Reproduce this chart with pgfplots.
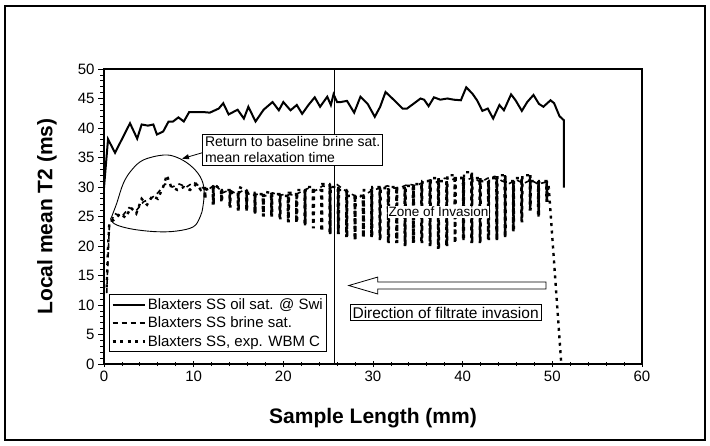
\documentclass[border=0pt]{standalone}
\usepackage{pgfplots}
\pgfplotsset{compat=1.18}
\usepackage{fontspec}
\setmainfont{Liberation Sans}
\usetikzlibrary{arrows.meta}
\begin{document}
\begin{tikzpicture}
\useasboundingbox (0pt,0pt) rectangle (710pt,445pt);
\draw[line width=1.5pt] (5pt,5pt) rectangle (705pt,439pt);
\begin{axis}[
  at={(104pt,81pt)}, anchor=south west,
  scale only axis, width=538pt, height=295pt,
  xmin=0, xmax=60, ymin=0, ymax=50,
  xtick={0,10,...,60}, ytick={0,5,...,50},
  minor x tick num=4, minor y tick num=4,
  tick pos=left,
  ytick align=outside, xtick align=center,
  major tick length=6pt, minor tick length=4pt,
  every tick/.style={black, line width=0.8pt},
  axis line style={line width=1.2pt},
  /pgf/number format/assume math mode=true,
  tick label style={font=\fontsize{15}{18}\selectfont},
  xlabel={\bfseries Sample Length (mm)},
  ylabel={\bfseries Local mean T2 (ms)},
  label style={font=\fontsize{21}{25}\selectfont},
  xlabel style={at={(axis description cs:0.5,-0.183)}, anchor=center},
  ylabel style={at={(axis description cs:-0.106,0.5)}, anchor=center},
  legend style={at={(0.0093,0.041)}, anchor=south west, draw=black, line width=0.8pt,
    font=\fontsize{15}{18}\selectfont, row sep=2pt, inner sep=2pt, fill=white},
  legend cell align=left,
  legend image code/.code={\draw[#1] (0pt,0pt) -- (32pt,0pt);},
]
\addplot[black, line width=2pt] coordinates {
(0,29.9)(0.45,38.1)(1.23,35.8)(2.9,40.8)(3.7,38.2)(4.2,40.6)(4.9,40.4)(5.5,40.6)(5.9,38.9)(6.6,39.4)(7.2,41.1)(7.7,41.1)(8.3,41.8)(8.9,41.1)(9.5,42.7)(11.1,42.7)(11.8,42.6)(12.8,43.3)(13.3,44.2)(13.9,42.3)(14.9,43.1)(15.6,41.6)(16.1,43.6)(16.9,41.1)(17.8,43.1)(18.8,44.4)(19.5,43.0)(20.0,44.4)(20.8,43.0)(21.5,43.9)(22.1,42.4)(22.8,43.9)(23.5,45.2)(24.1,43.6)(24.9,45.3)(25.3,43.9)(25.6,45.7)(26.0,44.4)(26.4,44.4)(27.1,44.6)(27.9,42.6)(28.6,45.3)(29.4,44.1)(30.2,41.9)(30.8,43.6)(31.4,46.1)(32.3,44.8)(33.3,43.3)(33.8,43.3)(34.6,44.2)(35.3,45.0)(35.7,44.8)(36.2,43.7)(36.8,45.2)(37.5,44.8)(38.3,45.0)(39.0,44.8)(39.8,44.7)(40.4,46.9)(41.1,45.8)(41.6,44.7)(42.2,42.9)(42.8,43.3)(43.4,41.6)(44.1,43.9)(44.6,43.0)(45.4,45.7)(45.9,44.7)(46.6,42.9)(47.2,44.4)(47.9,45.6)(48.5,44.1)(49.0,43.6)(49.8,44.7)(50.2,44.2)(50.8,42.0)(51.3,41.3)(51.3,29.9)
};
\addlegendentry{Blaxters SS oil sat. @ Swi}
\addplot[black, line width=1.6pt, dash pattern=on 5pt off 4pt] coordinates {
(0.3,12)(0.45,18)(0.6,23.5)(1.2,25.5)(2.0,25)(2.8,26.5)(3.6,26)(4.4,27.5)(5.2,28)(6.0,29)(6.8,30.5)(7.6,30)(8.4,30.5)(9.2,30)(10.0,30.8)(10.8,30)(11.6,29.5)(12.4,30.5)(13.2,29)(14.0,29.5)(14.8,28.8)(15.6,29.5)(16.4,28.5)(17.2,28.8)(18.0,28.5)(18.8,29)(19.6,28.6)(20.4,28.8)(21.2,28.6)(22.0,29.2)(22.8,29.8)(23.6,29.4)(24.4,30.2)(25.2,29.8)(26.0,30.4)(26.8,29.5)(27.6,28.8)(28.4,28.2)(29.2,28.8)(30.0,29.5)(30.8,29.8)(31.6,30.2)(32.4,29.8)(33.2,30)(34.0,30.5)(34.8,30.2)(35.6,30.8)(36.4,31.2)(37.2,30.8)(38.0,31.5)(38.8,31.2)(39.6,31.8)(40.4,31.2)(41.2,31.6)(42.0,30.8)(42.8,31.5)(43.6,31.8)(44.4,31)(45.2,30.6)(46.0,31.2)(46.8,30.6)(47.6,31.2)(48.4,30.5)(49.2,30.8)(49.6,29.5)
};
\addlegendentry{Blaxters SS brine sat.}
\addplot[black, line width=2.4pt, dash pattern=on 3pt off 4.5pt] coordinates {
(0.3,13)(0.45,20)(0.6,24)(1.2,24.5)(1.8,25.5)(2.4,24.8)(3.0,26.5)(3.6,25.5)(4.2,28)(4.8,27)(5.4,28.5)(6.0,28)(6.6,30)(7.0,32)(7.5,30)(8.2,29.5)(8.9,30)(9.6,29.5)(10.3,30.5)(10.8,29.5)
(11.20,30.0)(11.22,28.0)(11.24,30.0)(11.26,28.0)(11.28,30.0)(11.30,28.0)(11.32,29.5)
(12.13,30.0)(12.15,27.0)(12.17,30.0)(12.19,27.0)(12.21,30.0)(12.23,27.0)(12.25,30.5)
(13.06,29.5)(13.08,27.5)(13.10,29.5)(13.12,27.5)(13.14,29.5)(13.16,27.5)(13.18,29.5)
(13.99,29.5)(14.01,26.5)(14.03,29.5)(14.05,26.5)(14.07,29.5)(14.09,26.5)(14.11,29.0)
(14.92,29.0)(14.94,26.0)(14.96,29.0)(14.98,26.0)(15.00,29.0)(15.02,26.0)(15.04,30.0)
(15.85,29.5)(15.87,26.0)(15.89,29.5)(15.91,26.0)(15.93,29.5)(15.95,26.0)(15.97,29.0)
(16.78,29.0)(16.80,25.5)(16.82,29.0)(16.84,25.5)(16.86,29.0)(16.88,25.5)(16.90,28.8)
(17.71,28.8)(17.73,25.0)(17.75,28.8)(17.77,25.0)(17.79,28.8)(17.81,25.0)(17.83,29.2)
(18.64,29.0)(18.66,25.0)(18.68,29.0)(18.70,25.0)(18.72,29.0)(18.74,25.0)(18.76,28.8)
(19.57,28.8)(19.59,24.5)(19.61,28.8)(19.63,24.5)(19.65,28.8)(19.67,24.5)(19.69,28.5)
(20.50,28.5)(20.52,24.0)(20.54,28.5)(20.56,24.0)(20.58,28.5)(20.60,24.0)(20.62,29.0)
(21.43,29.0)(21.45,24.0)(21.47,29.0)(21.49,24.0)(21.51,29.0)(21.53,24.0)(21.55,29.5)
(22.36,29.5)(22.38,23.5)(22.40,29.5)(22.42,23.5)(22.44,29.5)(22.46,23.5)(22.48,30.0)
(23.29,30.0)(23.31,23.0)(23.33,30.0)(23.35,23.0)(23.37,30.0)(23.39,23.0)(23.41,29.5)
(24.22,29.5)(24.24,22.5)(24.26,29.5)(24.28,22.5)(24.30,29.5)(24.32,22.5)(24.34,30.5)
(25.15,30.5)(25.17,22.0)(25.19,30.5)(25.21,22.0)(25.23,30.5)(25.25,22.0)(25.27,30.0)
(26.08,30.0)(26.10,22.0)(26.12,30.0)(26.14,22.0)(26.16,30.0)(26.18,22.0)(26.20,29.5)
(27.01,29.5)(27.03,21.5)(27.05,29.5)(27.07,21.5)(27.09,29.5)(27.11,21.5)(27.13,28.5)
(27.94,28.5)(27.96,21.0)(27.98,28.5)(28.00,21.0)(28.02,28.5)(28.04,21.0)(28.06,28.5)
(28.87,28.5)(28.89,21.5)(28.91,28.5)(28.93,21.5)(28.95,28.5)(28.97,21.5)(28.99,29.5)
(29.80,29.5)(29.82,21.5)(29.84,29.5)(29.86,21.5)(29.88,29.5)(29.90,21.5)(29.92,30.0)
(30.73,30.0)(30.75,21.0)(30.77,30.0)(30.79,21.0)(30.81,30.0)(30.83,21.0)(30.85,29.8)
(31.66,29.8)(31.68,20.5)(31.70,29.8)(31.72,20.5)(31.74,29.8)(31.76,20.5)(31.78,30.0)
(32.59,30.0)(32.61,20.5)(32.63,30.0)(32.65,20.5)(32.67,30.0)(32.69,20.5)(32.71,29.8)
(33.52,29.8)(33.54,20.0)(33.56,29.8)(33.58,20.0)(33.60,29.8)(33.62,20.0)(33.64,30.2)
(34.45,30.2)(34.47,20.5)(34.49,30.2)(34.51,20.5)(34.53,30.2)(34.55,20.5)(34.57,30.5)
(35.38,30.5)(35.40,20.5)(35.42,30.5)(35.44,20.5)(35.46,30.5)(35.48,20.5)(35.50,31.0)
(36.31,31.0)(36.33,20.0)(36.35,31.0)(36.37,20.0)(36.39,31.0)(36.41,20.0)(36.43,31.5)
(37.24,31.5)(37.26,19.5)(37.28,31.5)(37.30,19.5)(37.32,31.5)(37.34,19.5)(37.36,31.0)
(38.17,31.0)(38.19,20.0)(38.21,31.0)(38.23,20.0)(38.25,31.0)(38.27,20.0)(38.29,32.0)
(39.10,32.0)(39.12,20.5)(39.14,32.0)(39.16,20.5)(39.18,32.0)(39.20,20.5)(39.22,31.5)
(40.03,31.5)(40.05,21.0)(40.07,31.5)(40.09,21.0)(40.11,31.5)(40.13,21.0)(40.15,32.5)
(40.96,32.5)(40.98,20.5)(41.00,32.5)(41.02,20.5)(41.04,32.5)(41.06,20.5)(41.08,31.5)
(41.89,31.5)(41.91,20.5)(41.93,31.5)(41.95,20.5)(41.97,31.5)(41.99,20.5)(42.01,31.0)
(42.82,31.0)(42.84,21.0)(42.86,31.0)(42.88,21.0)(42.90,31.0)(42.92,21.0)(42.94,31.5)
(43.75,31.5)(43.77,21.0)(43.79,31.5)(43.81,21.0)(43.83,31.5)(43.85,21.0)(43.87,32.0)
(44.68,32.0)(44.70,21.5)(44.72,32.0)(44.74,21.5)(44.76,32.0)(44.78,21.5)(44.80,31.0)
(45.61,31.0)(45.63,22.5)(45.65,31.0)(45.67,22.5)(45.69,31.0)(45.71,22.5)(45.73,31.5)
(46.54,31.5)(46.56,24.0)(46.58,31.5)(46.60,24.0)(46.62,31.5)(46.64,24.0)(46.66,32.0)
(47.47,32.0)(47.49,26.0)(47.51,32.0)(47.53,26.0)(47.55,32.0)(47.57,26.0)(47.59,31.0)
(48.40,31.0)(48.42,25.0)(48.44,31.0)(48.46,25.0)(48.48,31.0)(48.50,25.0)(48.52,31.0)
(49.33,31.0)(49.35,27.5)(49.37,31.0)(49.39,27.5)(49.41,31.0)(49.43,27.5)(49.45,30.0)
(49.6,30)(50.3,15)(51.0,0)
};
\addlegendentry{Blaxters SS, exp. WBM C}
\addplot[black, line width=1pt, forget plot] coordinates {(25.7,0)(25.7,50)};
% annotations
\draw[line width=0.9pt] plot[smooth cycle, tension=0.6] coordinates {
(0.86,24.97)(1.42,27.24)(2.16,30.63)(3.09,32.88)(4.39,34.58)(6.63,35.42)(8.12,35.03)(9.6,33.7)(10.73,31.75)(11.17,29.5)(11.03,26.66)(10.73,24.97)(9.98,23.27)(8.12,22.54)(5.89,22.42)(3.27,22.83)(1.42,23.56)(0.78,24.4)};
\node[draw, line width=0.8pt, fill=white, anchor=north west, align=left, inner sep=2.5pt,
  font=\fontsize{14}{16}\selectfont] at (axis cs:10.95,39.0) {Return to baseline brine sat.\\mean relaxation time};
\draw[line width=0.8pt, -{Triangle[length=7pt,width=5pt]}] (axis cs:10.95,35.8) -- (axis cs:8.7,34.8);
\node[fill=white, inner sep=1pt, font=\fontsize{13.5}{16}\selectfont] at (axis cs:37.3,25.8) {Zone of Invasion};
\draw[line width=0.8pt, fill=white] (axis cs:27.3,13.3) -- (axis cs:30.54,14.74) -- (axis cs:30.54,13.89) -- (axis cs:49.3,13.89) -- (axis cs:49.3,12.71) -- (axis cs:30.54,12.71) -- (axis cs:30.54,11.86) -- cycle;
\node[draw, line width=0.8pt, fill=white, inner sep=2.5pt, font=\fontsize{15.5}{18}\selectfont] at (axis cs:38.1,8.7) {Direction of filtrate invasion};
\end{axis}
\end{tikzpicture}
\end{document}
